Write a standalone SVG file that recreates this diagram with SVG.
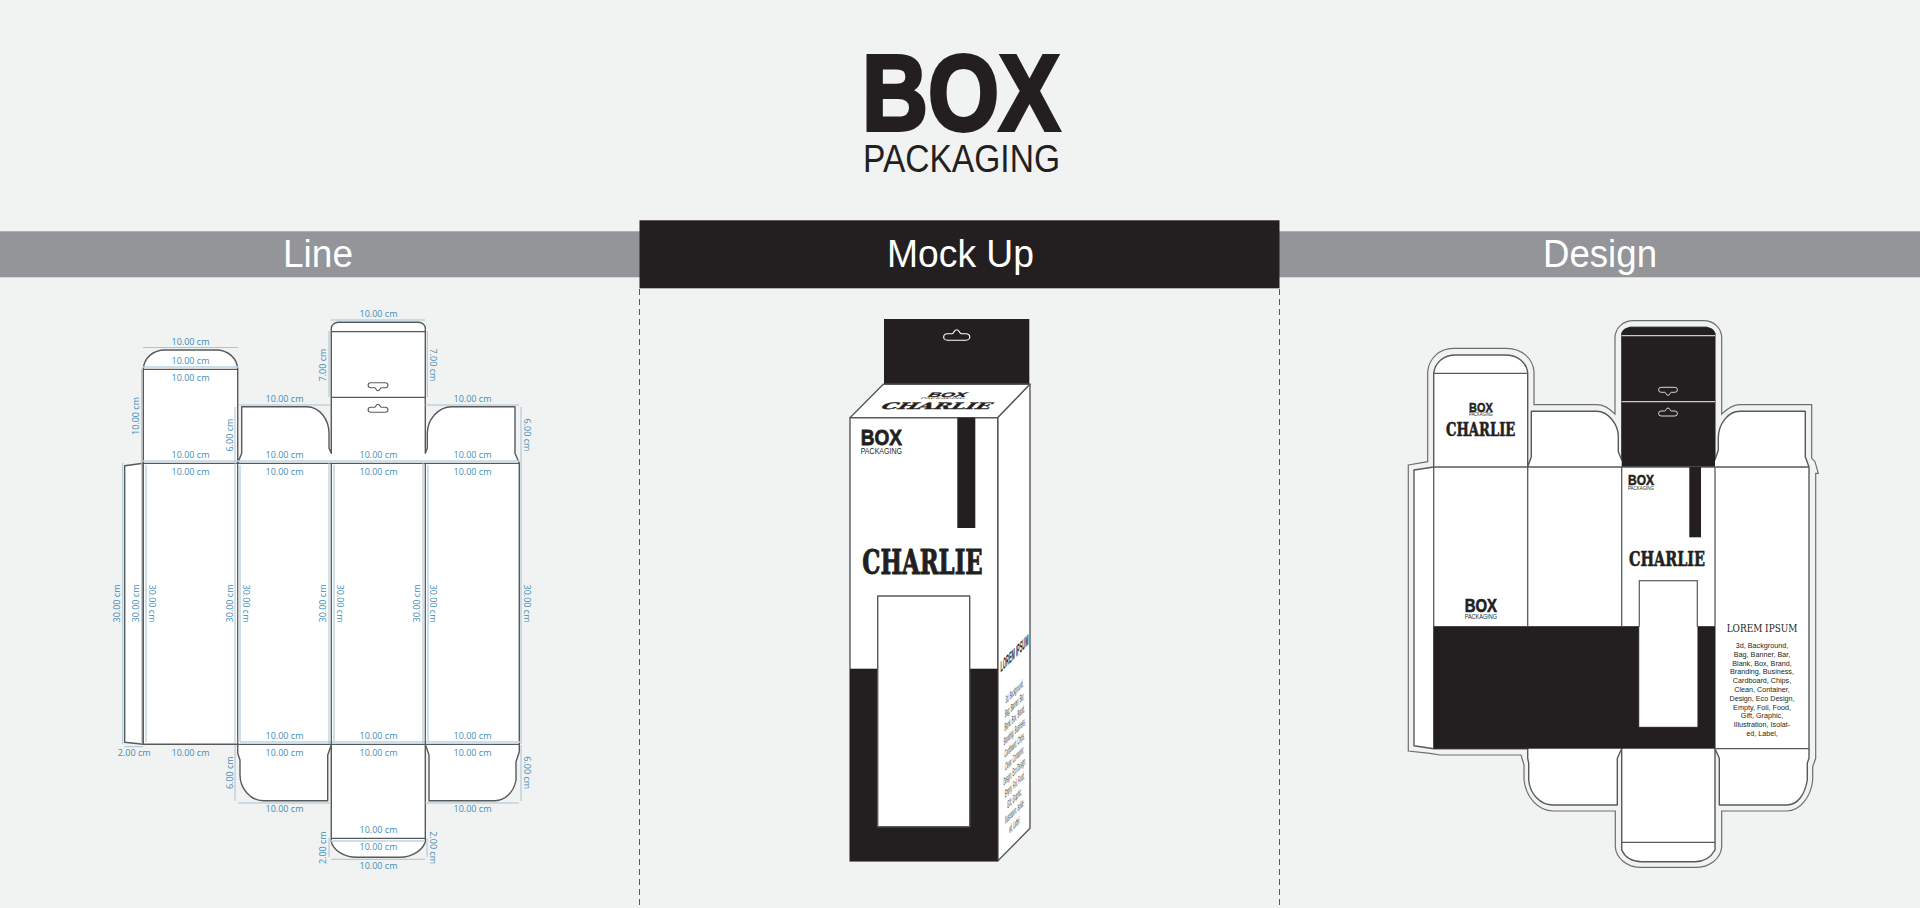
<svg xmlns="http://www.w3.org/2000/svg" width="1920" height="908" viewBox="0 0 1920 908">
<style>
text{font-family:"Liberation Sans",Arial,sans-serif;fill:#231f20}
.logo{font-weight:700;stroke:#231f20;stroke-width:.035em}
.hd{fill:#fff;font-size:39px;text-anchor:middle}
.slab{font-family:"DejaVu Serif",serif;font-weight:700;stroke:#231f20;stroke-width:.03em}
.slab2{font-family:"DejaVu Serif",serif}
.cut{fill:#fff;stroke:#58595b;stroke-width:1.4;stroke-linejoin:round}
.ln{fill:none;stroke:#58595b;stroke-width:1.3}
.off{fill:none;stroke:#6d6e71;stroke-width:1.2}
.dim{fill:none;stroke:#a8c3d3;stroke-width:1}
.glow{fill:none;stroke:#b9d7e8;stroke-width:1.5}
.d text{font-family:"Open Sans","Noto Sans",sans-serif;font-size:9px;fill:#3f8db8;text-anchor:middle}
.body{font-size:7.200px;text-anchor:middle}
.blk{fill:#231f20}
</style>
<defs>
<path id="hole" d="M-6.500 4H6.500A2.500 2.500 0 0 0 6.500-1H3C2-1 2-4 0-4S-2-1-3-1H-6.500A2.500 2.500 0 0 0-6.500 4Z"/>
</defs>
<rect width="1920" height="908" fill="#f1f2f2"/>

<g id="title">
<text class="logo" x="862" y="130" font-size="108" textLength="198" lengthAdjust="spacingAndGlyphs">BOX</text>
<text x="863" y="172.300" font-size="39.700" textLength="197" lengthAdjust="spacingAndGlyphs">PACKAGING</text>
</g>

<g id="bars">
<rect y="231.300" width="1920" height="46" fill="#939598"/>
<rect x="639.500" y="220.300" width="640" height="68" class="blk"/>
<text class="hd" x="318" y="267" textLength="70" lengthAdjust="spacingAndGlyphs">Line</text>
<text class="hd" x="960.500" y="267" textLength="147" lengthAdjust="spacingAndGlyphs">Mock Up</text>
<text class="hd" x="1600" y="267" textLength="114" lengthAdjust="spacingAndGlyphs">Design</text>
<path d="M639.500 289V908M1279.500 289V908" fill="none" stroke="#58595b" stroke-width="1" stroke-dasharray="6 4"/>
</g>

<g id="line-dieline">
<path class="cut" d="M124.700 465.700L143.300 463.300V744.300L124.700 742.300Z"/>
<path class="cut" d="M143.300 463.300V369C144 358 153 350 165 350H216C228 350 237 358 237.700 369V463.300L241.700 453.300V406.700H306.700C320 406.700 329 420 329 433.300V448.300L331.300 453.300V328.300C331.300 325 335 322.300 338.300 322.300H418.300C422 322.300 425.300 325 425.300 328.300V453.300L427.300 448.300V433.300C427.300 420 438 406.700 451.700 406.700H515V453.300L519.300 463.300V751.700L516 761.700V780C514 792 505 800.700 495 800.700H429V755L425.300 744.300V841.700C423 850 412 857.300 400 857.300H356.700C344 857.300 333 850 331.300 841.700V745L327.700 755V800.700H263.300C250 800.700 240 788 240 775V760L237.700 753.300V744.300H143.300Z"/>
<path class="glow" d="M146 465V742M240 465V742M334 465V742M428 465V742M143 461H520M240 742H520M331 841H425M143 367H238"/>
<path class="ln" d="M143.300 369.300H237.700M331.300 331.700H425.300M331.300 397.300H425.300M143.300 463.300H519.300M237.700 744.300H519.300M143.300 463.300V744.300M237.700 463.300V744.300M331.300 463.300V744.300M425.300 463.300V744.300M331.300 838.300H425.300"/>
<use href="#hole" transform="translate(378 386.700) scale(1.100 -1)" fill="none" stroke="#58595b"/>
<use href="#hole" transform="translate(378 408.300) scale(1.100 1)" fill="none" stroke="#58595b"/>
<path class="dim" d="M143 347.500H238M331 320H425M238 405H331M425 405H519M141.700 369V463M235 407V463M329 331V397M427.300 331V397M521 407V463M122.700 463V744M141.700 463V744M235 463V744M329 463V744M423 463V744M521 463V744M235 745V801M521 745V801M238 803H331M425 803H519M329 838V857M427 838V857M331 859.300H425M124 746.700H143"/>
<g class="d">
<text x="190.500" y="345">10.00 cm</text><text x="190.500" y="364">10.00 cm</text><text x="190.500" y="381">10.00 cm</text>
<text x="378.500" y="317.300">10.00 cm</text>
<text x="284.500" y="401.700">10.00 cm</text><text x="472.500" y="401.700">10.00 cm</text>
<text x="190.500" y="458">10.00 cm</text><text x="284.500" y="458">10.00 cm</text><text x="378.500" y="458">10.00 cm</text><text x="472.500" y="458">10.00 cm</text>
<text x="190.500" y="474.700">10.00 cm</text><text x="284.500" y="474.700">10.00 cm</text><text x="378.500" y="474.700">10.00 cm</text><text x="472.500" y="474.700">10.00 cm</text>
<text x="284.500" y="739.300">10.00 cm</text><text x="378.500" y="739.300">10.00 cm</text><text x="472.500" y="739.300">10.00 cm</text>
<text x="134.200" y="756.300">2.00 cm</text><text x="190.500" y="756.300">10.00 cm</text><text x="284.500" y="756.300">10.00 cm</text><text x="378.500" y="756.300">10.00 cm</text><text x="472.500" y="756.300">10.00 cm</text>
<text x="284.500" y="812.300">10.00 cm</text><text x="472.500" y="812.300">10.00 cm</text>
<text x="378.500" y="833">10.00 cm</text><text x="378.500" y="850">10.00 cm</text><text x="378.500" y="868.700">10.00 cm</text>
<text transform="translate(138.500 416) rotate(-90)">10.00 cm</text>
<text transform="translate(232.500 435) rotate(-90)">6.00 cm</text>
<text transform="translate(326 365) rotate(-90)">7.00 cm</text>
<text transform="translate(430 365) rotate(90)">7.00 cm</text>
<text transform="translate(524 435) rotate(90)">6.00 cm</text>
<text transform="translate(120 603.500) rotate(-90)">30.00 cm</text>
<text transform="translate(138.500 603.500) rotate(-90)">30.00 cm</text>
<text transform="translate(232.500 603.500) rotate(-90)">30.00 cm</text>
<text transform="translate(326 603.500) rotate(-90)">30.00 cm</text>
<text transform="translate(420 603.500) rotate(-90)">30.00 cm</text>
<text transform="translate(149 603.500) rotate(90)">30.00 cm</text>
<text transform="translate(242.500 603.500) rotate(90)">30.00 cm</text>
<text transform="translate(336.500 603.500) rotate(90)">30.00 cm</text>
<text transform="translate(430 603.500) rotate(90)">30.00 cm</text>
<text transform="translate(524 603.500) rotate(90)">30.00 cm</text>
<text transform="translate(232.500 772.700) rotate(-90)">6.00 cm</text>
<text transform="translate(524 772.700) rotate(90)">6.00 cm</text>
<text transform="translate(326 847.700) rotate(-90)">2.00 cm</text>
<text transform="translate(430 847.700) rotate(90)">2.00 cm</text>
</g>
</g>

<g id="mockup">
<rect x="884" y="319" width="145.300" height="65.500" class="blk"/>
<use href="#hole" transform="translate(956.700 335) scale(1.450 1.300)" fill="none" stroke="#fff" stroke-width=".8"/>
<path d="M850 417.700L883.300 384.300H1030L997.700 417.700Z" class="cut"/>
<path d="M997.700 417.700L1030 384.300V828.300L997.700 861Z" class="cut"/>
<rect x="850" y="417.700" width="147.700" height="443.300" class="cut"/>
<rect x="850" y="668.700" width="147.700" height="192.300" class="blk"/>
<rect x="957.300" y="417.700" width="18" height="110.300" class="blk"/>
<rect x="877.700" y="596" width="92" height="230.700" class="cut"/>
<text class="logo" x="860.700" y="445" font-size="22" textLength="41.300" lengthAdjust="spacingAndGlyphs">BOX</text>
<text x="860.700" y="453.700" font-size="9.500" textLength="41.300" lengthAdjust="spacingAndGlyphs">PACKAGING</text>
<text class="slab" x="862.300" y="574" font-size="33" textLength="120.400" lengthAdjust="spacingAndGlyphs">CHARLIE</text>
<g transform="translate(879 409) skewX(-45) scale(1 .32)">
<text class="slab" x="0" y="0" font-size="28" textLength="110" lengthAdjust="spacingAndGlyphs">CHARLIE</text>
</g>
<g transform="translate(926.700 397) skewX(-45) scale(1 .3)">
<text class="logo" x="0" y="0" font-size="22" textLength="38" lengthAdjust="spacingAndGlyphs">BOX</text>
<text x="-4" y="8" font-size="8" textLength="44" lengthAdjust="spacingAndGlyphs">PACKAGING</text>
</g>
<g transform="translate(1014.500 0) skewY(-45) scale(.34 1.500)">
<text x="-41" y="439" font-size="10.500" font-weight="700" textLength="82" lengthAdjust="spacingAndGlyphs">LOREM IPSUM</text>
<text class="body" y="463.300">3d, Background,</text>
<text class="body" y="472.200">Bag, Banner, Bar,</text>
<text class="body" y="481">Blank, Box, Brand,</text>
<text class="body" y="489.900">Branding, Business,</text>
<text class="body" y="498.800">Cardboard, Chips,</text>
<text class="body" y="507.700">Clean, Container,</text>
<text class="body" y="516.500">Design, Eco Design,</text>
<text class="body" y="525.400">Empty, Foil, Food,</text>
<text class="body" y="534.300">Gift, Graphic,</text>
<text class="body" y="543.200">Illustration, Isolat-</text>
<text class="body" y="552">ed, Label,</text>
</g>
</g>

<g id="design">
<path class="off" d="M1408.300 465L1427.700 461.700V371.700C1429 358 1440 348.300 1453 348.300H1506.700C1521 348.300 1533 358 1534 371.700V404.700H1596.700C1603 404.700 1610 409 1615 414V338.300C1615 328 1623 320.700 1633.300 320.700H1703.300C1714 320.700 1721.700 328 1721.700 338.300V414C1727 409 1733 404.700 1740 404.700H1811.700V458.300L1815 461.700L1818.300 473.300H1815.700V758.300L1812.700 766.700V780C1811 797 1800 811 1786.700 811H1721.700V846.700C1721 858 1710 867.300 1696.700 867.300H1640C1627 867.300 1616 858 1615.300 846.700V811H1553.300C1538 811 1526 797 1524 780V765L1521 755H1440L1430 753.300L1408.300 751Z"/>
<path class="cut" d="M1414 470L1433.700 467V373C1435 363 1443 355 1456 355H1505C1518 355 1527 363 1527.700 373V467L1531.300 456.700V411.300H1596.700C1608 411.300 1618.300 424 1618.300 436.700V451.700L1621.700 460V333.300L1630 327.300H1706.700L1715 333.300V460L1718.300 450V438.300C1718.300 424 1728 411.300 1740 411.300H1805.300V456.700L1809 467V758.300L1807.300 763V780C1805 794 1798 805 1786.700 805H1719.300V758.300L1715 748.700V850C1711 857 1704 861.700 1695 861.700H1641.700C1632 861.700 1625 857 1621.700 850V748.700L1617.300 758.300V805H1553.300C1540 805 1530 794 1528.700 780V763L1527.700 758.300V748.700H1433.700L1414 745.700Z"/>
<path class="blk" d="M1621.700 467V333.300C1621.700 330 1626 327.300 1630 327.300H1706.700C1711 327.300 1715 330 1715 333.300V467Z"/>
<path d="M1621.700 335.700H1715M1621.700 401.700H1715" fill="none" stroke="#c9cacb" stroke-width="1.200"/>
<use href="#hole" transform="translate(1668 391.300) scale(1.050 -1)" fill="none" stroke="#fff" stroke-width=".8"/>
<use href="#hole" transform="translate(1668 412) scale(1.050 1)" fill="none" stroke="#fff" stroke-width=".8"/>
<path class="ln" d="M1433.700 373.300H1527.700M1433.700 467H1809M1433.700 467V748.700M1527.700 467V748.700M1621.700 467V748.700M1715 467V748.700M1715 748.700H1809M1621.700 842.300H1715M1433.700 626.700H1715"/>
<rect x="1433.700" y="626.700" width="281.300" height="122" class="blk"/>
<rect x="1689.300" y="467" width="11.700" height="70.300" class="blk"/>
<rect x="1639.300" y="580.700" width="58" height="146" fill="#fff" stroke="#58595b" stroke-width="1.200"/>
<path d="M1639.300 626.700V726.700H1697.300V626.700" fill="#fff"/>
<text class="logo" x="1469" y="412" font-size="13.600" textLength="23.700" lengthAdjust="spacingAndGlyphs">BOX</text>
<text x="1469" y="416.300" font-size="4.500" textLength="23.700" lengthAdjust="spacingAndGlyphs">PACKAGING</text>
<text class="slab" x="1446" y="436" font-size="18.300" textLength="69.300" lengthAdjust="spacingAndGlyphs">CHARLIE</text>
<text class="logo" x="1628" y="484.700" font-size="14.500" textLength="26" lengthAdjust="spacingAndGlyphs">BOX</text>
<text x="1628" y="490" font-size="4.800" textLength="26" lengthAdjust="spacingAndGlyphs">PACKAGING</text>
<text class="slab" x="1629" y="566.300" font-size="21" textLength="76" lengthAdjust="spacingAndGlyphs">CHARLIE</text>
<text class="logo" x="1464.700" y="612.300" font-size="18.400" textLength="32.300" lengthAdjust="spacingAndGlyphs">BOX</text>
<text x="1464.700" y="619" font-size="6.500" textLength="32.300" lengthAdjust="spacingAndGlyphs">PACKAGING</text>
<text class="slab2" x="1726.700" y="632" font-size="10.500" textLength="70.700" lengthAdjust="spacingAndGlyphs">LOREM IPSUM</text>
<g transform="translate(1762 0)">
<text class="body" y="648">3d, Background,</text>
<text class="body" y="656.800">Bag, Banner, Bar,</text>
<text class="body" y="665.600">Blank, Box, Brand,</text>
<text class="body" y="674.400">Branding, Business,</text>
<text class="body" y="683.200">Cardboard, Chips,</text>
<text class="body" y="692">Clean, Container,</text>
<text class="body" y="700.800">Design, Eco Design,</text>
<text class="body" y="709.600">Empty, Foil, Food,</text>
<text class="body" y="718.400">Gift, Graphic,</text>
<text class="body" y="727.200">Illustration, Isolat-</text>
<text class="body" y="736">ed, Label,</text>
</g>
</g>
</svg>
